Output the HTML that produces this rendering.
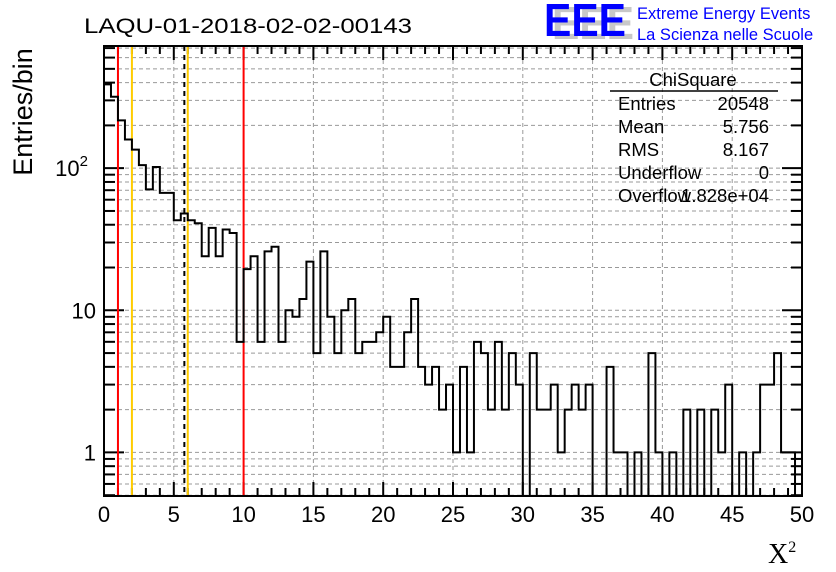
<!DOCTYPE html>
<html><head><meta charset="utf-8"><style>
html,body{margin:0;padding:0;background:#fff;}
svg{display:block;font-family:"Liberation Sans",sans-serif;}
</style></head><body>
<svg id="chart" width="836" height="572" viewBox="0 0 836 572">
<text x="84" y="33" font-size="21" textLength="328" lengthAdjust="spacingAndGlyphs">LAQU-01-2018-02-02-00143</text>
<g>
<text x="552" y="39" font-size="46" font-weight="bold" fill="#c8c8c8" textLength="82" lengthAdjust="spacingAndGlyphs">EEE</text>
<text x="544" y="36" font-size="46" font-weight="bold" fill="#0000ff" textLength="82" lengthAdjust="spacingAndGlyphs">EEE</text>
<text x="637" y="19" font-size="16.5" fill="#0000ff">Extreme Energy Events</text>
<text x="637" y="40" font-size="16.5" fill="#0000ff">La Scienza nelle Scuole</text>
</g>
<g id="grid"></g>
<g id="ticks"></g>
<g id="lines"></g>
<path id="hist" fill="none" stroke="#000" stroke-width="2"/>
<rect x="104" y="46" width="698" height="450" fill="none" stroke="#000" stroke-width="2"/>
<g id="labels" font-size="22"></g>
<text transform="translate(32,112) rotate(-90)" text-anchor="middle" font-size="27">Entries/bin</text>
<text x="768" y="563" font-size="28" font-family="Liberation Serif, serif">X<tspan font-size="16" dy="-11">2</tspan></text>
<g id="stats" font-size="18.5">
<text x="693" y="86" text-anchor="middle">ChiSquare</text>
<line x1="610" y1="91" x2="778" y2="91" stroke="#000" stroke-width="1.5"/>
<text x="618" y="110">Entries</text><text x="769" y="110" text-anchor="end">20548</text>
<text x="618" y="133">Mean</text><text x="769" y="133" text-anchor="end">5.756</text>
<text x="618" y="156">RMS</text><text x="769" y="156" text-anchor="end">8.167</text>
<text x="618" y="179">Underflow</text><text x="769" y="179" text-anchor="end">0</text>
<text x="618" y="202">Overflow</text><text x="769" y="202" text-anchor="end">1.828e+04</text>
</g>
</svg>
<script>
const binValues = [389,318,217,159,135,105,71,102,67,67,43,48,43,41,24,38,24,37,35,6,
19.5,24,6,26,28,6,10,9,12,22,5,26,9,5,10,12,5,6,6,7,
9,4,4,7,12,4,3,4,2,3,1,4,1,6,5,2,6,2,5,3,
0,5,2,2,3,1,2,3,2,3,0,0,4,1,1,0,1,0,5,1,
0,1,0,2,0,2,0,2,1,3,0,1,0,1,3,3,5,1,1,0];
const xTickLabels = ["0","5","10","15","20","25","30","35","40","45","50"];
const yDecades = [1,10,100];
const markerLines = [1,2,5.756,6,10];

const NS="http://www.w3.org/2000/svg";
const X0=104,X1=802,Y0=46,Y1=496,XMIN=0,XMAX=50,BW=0.5;
const sx=v=>X0+(v-XMIN)/(XMAX-XMIN)*(X1-X0);
const LMIN=Math.log10(0.4935),LMAX=Math.log10(724);
const sy=v=>v<=0?Y1:Math.min(Y1,Y1-(Math.log10(v)-LMIN)/(LMAX-LMIN)*(Y1-Y0));
function mk(tag,attrs,parent){const e=document.createElementNS(NS,tag);for(const k in attrs)e.setAttribute(k,attrs[k]);parent.appendChild(e);return e;}
const grid=document.getElementById('grid'),ticks=document.getElementById('ticks'),labels=document.getElementById('labels'),lines=document.getElementById('lines');
for(let v=0;v<=50;v++){
  const x=sx(v);const major=v%5===0;
  if(major&&v>0&&v<50){const g=mk('line',{x1:x,x2:x,y1:Y0,y2:Y1,stroke:'#999','stroke-dasharray':'4,3','stroke-width':1},grid);
  
  }
  const L=major?14:8;
  const t1=mk('line',{x1:x,x2:x,y1:Y1,y2:Y1-L,stroke:'#000','stroke-width':2},ticks);
  
  
  const t2=mk('line',{x1:x,x2:x,y1:Y0,y2:Y0+L,stroke:'#000','stroke-width':2},ticks);
  
  
}
xTickLabels.forEach((s,i)=>{const t=mk('text',{x:sx(i*5),y:522,'text-anchor':'middle'},labels);t.textContent=s;

});
[0.1,1,10,100].forEach(d=>{for(let m=1;m<=9;m++){const v=d*m;if(v<0.4935||v>724)continue;const y=sy(v);
  const g=mk('line',{x1:X0,x2:X1,y1:y,y2:y,stroke:'#999','stroke-dasharray':'4,3','stroke-width':1},grid);
  
  
  const L=m===1?20:11;
  const t=mk('line',{x1:X0,x2:X0+L,y1:y,y2:y,stroke:'#000','stroke-width':2},ticks);
  
  
  const t2=mk('line',{x1:X1,x2:X1-L,y1:y,y2:y,stroke:'#000','stroke-width':2},ticks);
  
  
}});
yDecades.forEach(v=>{const t=mk('text',{x:96,y:sy(v)+8,'text-anchor':'end'},labels);
  if(v===100){t.innerHTML='10<tspan font-size="15" dy="-10">2</tspan>';t.setAttribute('x',88);}else t.textContent=String(v);
  
  });
markerLines.forEach(v=>{const col=(v===1||v===10)?'#ff0000':(v===2||v===6)?'#ffcc00':'#000';
  const a={x1:sx(v),x2:sx(v),y1:Y0,y2:Y1,stroke:col,'stroke-width':2};if(col==='#000')a['stroke-dasharray']='5,4';
  const l=mk('line',a,lines);
  
  });
let d='M'+sx(0)+','+Y1;
binValues.forEach((v,i)=>{const y=sy(v);d+=' L'+sx(i*BW)+','+y+' L'+sx((i+1)*BW)+','+y;});
d+=' L'+sx(binValues.length*BW)+','+Y1;
document.getElementById('hist').setAttribute('d',d);
</script>
</body></html>
